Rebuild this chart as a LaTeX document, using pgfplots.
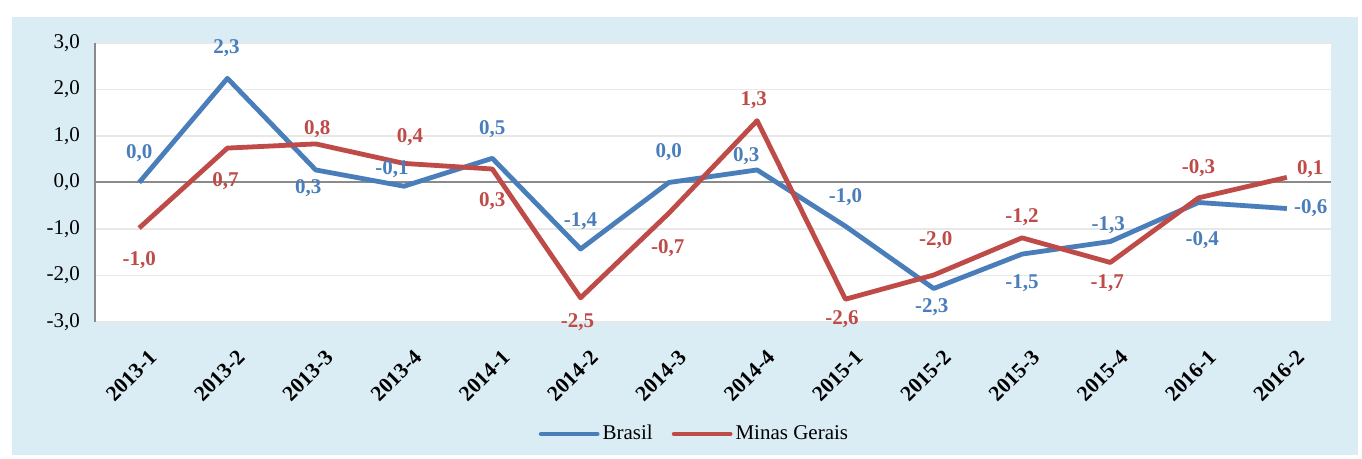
\documentclass[border=0pt]{standalone}
\usepackage{fontspec}
\setmainfont{Liberation Serif}
\usepackage{pgfplots}
\usepackage{pgfplotstable}
\pgfplotsset{compat=1.18}
\definecolor{bblue}{HTML}{4A7EBB}
\definecolor{rred}{HTML}{BE4B48}
\definecolor{panel}{HTML}{DAECF4}
\definecolor{gridc}{HTML}{E8E8E8}
\definecolor{zeroc}{HTML}{8A8A8A}

\pgfplotstableread{
x y lbl dx dy
0 0.00 0,0 0 14.7
1 2.24 2,3 -0.5 15
2 0.27 0,3 -3.7 -9.2
3 -0.08 -0,1 -6 8.5
4 0.52 0,5 0 14.5
5 -1.43 -1,4 0 14
6 0.00 0,0 0 15
7 0.27 0,3 -5.5 7
8 -0.94 -1,0 0 14.5
9 -2.28 -2,3 -1 -9.2
10 -1.54 -1,5 0 -14.7
11 -1.27 -1,3 -1 8.3
12 -0.43 -0,4 1.8 -18.7
13 -0.56 -0,6 12 0
}\brasil

\pgfplotstableread{
x y lbl dx dy
0 -0.98 -1,0 0 -15.8
1 0.74 0,7 -1 -16.7
2 0.83 0,8 0.8 7.3
3 0.41 0,4 3 13
4 0.29 0,3 0 -16
5 -2.48 -2,5 -1.5 -12.3
6 -0.66 -0,7 -0.5 -17.5
7 1.33 1,3 -1.7 10.3
8 -2.51 -2,6 -1.7 -10
9 -1.99 -2,0 1 17.5
10 -1.19 -1,2 0 10.2
11 -1.72 -1,7 -1.5 -10.5
12 -0.33 -0,3 0 15
13 0.11 0,1 11.7 4
}\minas

\begin{document}
\begin{tikzpicture}
\fill[white] (-47.5pt,-68.5pt) rectangle (633.5pt,161pt);
\fill[panel] (-41.5pt,-66.5pt) rectangle (631.5pt,152.5pt);
\begin{axis}[
  at={(0,0)}, anchor=south west,
  scale only axis, width=618pt, height=139.5pt,
  xmin=-0.5, xmax=13.5, ymin=-3, ymax=3,
  clip=false,
  axis background/.style={fill=white},
  axis line style={draw=none},
  ytick={-3,-2,-1,0,1,2,3},
  ymajorgrids, grid style={gridc, line width=0.8pt},
  xtick={0,...,13},
  xticklabels={2013-1,2013-2,2013-3,2013-4,2014-1,2014-2,2014-3,2014-4,2015-1,2015-2,2015-3,2015-4,2016-1,2016-2},
  major tick length=0pt,
  tick label style={font=\fontsize{10.5}{12}\selectfont},
  yticklabel style={xshift=-4pt,
    /pgf/number format/fixed, /pgf/number format/fixed zerofill,
    /pgf/number format/precision=1, /pgf/number format/use comma,
    /pgf/number format/assume math mode=true},
  xticklabel style={rotate=45, anchor=north east, font=\bfseries\fontsize{10.8}{12}\selectfont, yshift=-9pt, xshift=-3pt},
  legend columns=2,
  legend style={at={(0.4854,-0.4014)}, anchor=center, draw=none, fill=none,
    font=\fontsize{10.5}{12}\selectfont,
    /tikz/every even column/.append style={column sep=8pt},
    nodes={inner sep=1.5pt}},
  legend image code/.code={\draw[#1, line cap=round] (0pt,0pt) -- (28pt,0pt);},
]
\draw[zeroc, line width=1pt] (rel axis cs:0,0) -- (rel axis cs:0,1);
\draw[zeroc, line width=1pt] (axis cs:-0.5,0) -- (axis cs:13.5,0);
\addplot[bblue, line width=2.4pt, line join=round, no marks,
  nodes near coords, point meta=explicit symbolic,
  visualization depends on={\thisrow{dx} \as \dx},
  visualization depends on={\thisrow{dy} \as \dy},
  every node near coord/.append style={anchor=center, xshift=\dx pt, yshift=\dy pt,
    font=\bfseries\fontsize{10.5}{12}\selectfont, text=bblue, inner sep=0pt}]
  table[x=x, y=y, meta=lbl]{\brasil};
\addlegendentry{Brasil}
\addplot[rred, line width=2.4pt, line join=round, no marks,
  nodes near coords, point meta=explicit symbolic,
  visualization depends on={\thisrow{dx} \as \dx},
  visualization depends on={\thisrow{dy} \as \dy},
  every node near coord/.append style={anchor=center, xshift=\dx pt, yshift=\dy pt,
    font=\bfseries\fontsize{10.5}{12}\selectfont, text=rred, inner sep=0pt}]
  table[x=x, y=y, meta=lbl]{\minas};
\addlegendentry{Minas Gerais}
\end{axis}
\pgfresetboundingbox
\path (-47.5pt,-68.5pt) rectangle (633.5pt,161pt);
\end{tikzpicture}
\end{document}
